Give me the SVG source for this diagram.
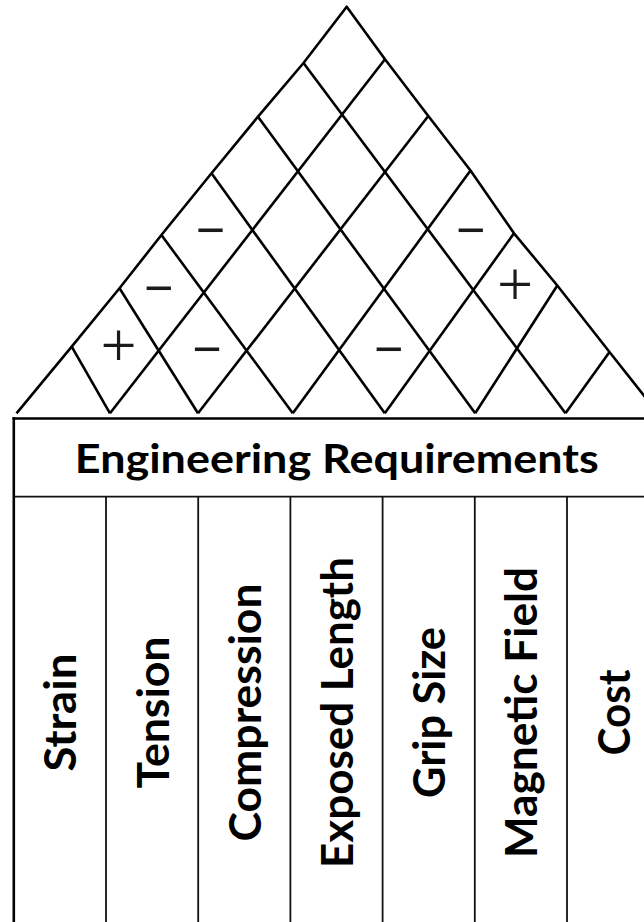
<svg xmlns="http://www.w3.org/2000/svg" width="644" height="922" viewBox="0 0 644 922">
<style>
.roof{fill:none;stroke:#000;stroke-width:2.6;stroke-linejoin:round;stroke-linecap:butt}
.plus{font-family:"Liberation Serif",serif;font-size:64px;fill:#1a1a1a;text-anchor:middle}
.minus{font-family:"Liberation Sans",sans-serif;font-size:50px;fill:#1a1a1a;text-anchor:middle}
.hdr{font-family:Lato,"Open Sans",sans-serif;font-weight:bold;font-size:39.5px;fill:#000;text-anchor:middle}
.lbl{font-family:Lato,"Open Sans",sans-serif;font-weight:bold;font-size:43px;fill:#000;text-anchor:middle}
.frame{stroke:#000;stroke-width:2.6;fill:none}
.col{stroke:#111;stroke-width:1.8;fill:none}
</style>
<rect width="644" height="922" fill="#fff"/>
<g id="roof">
<polyline class="roof" points="16.5,413.3 71.7,346.7 119.5,288.3 161.4,235 211.5,173.3 258,116.7 303.5,63 346.7,6.7 385,59.3 428.3,116 470.5,170.5 514,233.3 557.3,285.5 609.5,352 658,413.3"/>
<g id="connectors">
<line class="roof" x1="110" y1="413.3" x2="71.7" y2="346.7"/>
<line class="roof" x1="198" y1="413.3" x2="119.5" y2="288.3"/>
<line class="roof" x1="292.8" y1="413.3" x2="161.4" y2="235"/>
<line class="roof" x1="384.8" y1="413.3" x2="211.5" y2="173.3"/>
<line class="roof" x1="475.2" y1="413.3" x2="258" y2="116.7"/>
<line class="roof" x1="565.5" y1="413.3" x2="303.5" y2="63"/>
<line class="roof" x1="110" y1="413.3" x2="385" y2="59.3"/>
<line class="roof" x1="198" y1="413.3" x2="428.3" y2="116"/>
<line class="roof" x1="292.8" y1="413.3" x2="470.5" y2="170.5"/>
<line class="roof" x1="384.8" y1="413.3" x2="514" y2="233.3"/>
<line class="roof" x1="475.2" y1="413.3" x2="557.3" y2="285.5"/>
<line class="roof" x1="565.5" y1="413.3" x2="609.5" y2="352"/>
</g>
</g>
<g id="correlations">
<text class="plus" x="118.5" y="366.7">+</text>
<text class="plus" x="515" y="306">+</text>
<text class="minus" x="206.8" y="366">−</text>
<text class="minus" x="158.5" y="304.5">−</text>
<text class="minus" x="210.3" y="247">−</text>
<text class="minus" x="388.5" y="365.5">−</text>
<text class="minus" x="470.5" y="247">−</text>
</g>
<g id="table">
<line class="frame" x1="12.5" y1="418.5" x2="644" y2="418.5"/>
<line class="frame" x1="13.8" y1="417.2" x2="13.8" y2="922"/>
<line class="col" x1="13.8" y1="496.7" x2="644" y2="496.7"/>
<line class="col" x1="106" y1="496.7" x2="106" y2="922"/>
<line class="col" x1="198.2" y1="496.7" x2="198.2" y2="922"/>
<line class="col" x1="290.4" y1="496.7" x2="290.4" y2="922"/>
<line class="col" x1="382.6" y1="496.7" x2="382.6" y2="922"/>
<line class="col" x1="474.8" y1="496.7" x2="474.8" y2="922"/>
<line class="col" x1="567" y1="496.7" x2="567" y2="922"/>
</g>
<g id="header">
<text class="hdr" x="336.8" y="473.3" textLength="524" lengthAdjust="spacingAndGlyphs">Engineering Requirements</text>
</g>
<g id="col-strain"><text class="lbl" transform="translate(76.4,712.5) rotate(-90)" textLength="118" lengthAdjust="spacingAndGlyphs">Strain</text></g>
<g id="col-tension"><text class="lbl" transform="translate(168.6,712.5) rotate(-90)" textLength="152" lengthAdjust="spacingAndGlyphs">Tension</text></g>
<g id="col-compression"><text class="lbl" transform="translate(260.8,712.5) rotate(-90)" textLength="258" lengthAdjust="spacingAndGlyphs">Compression</text></g>
<g id="col-exposed-length"><text class="lbl" transform="translate(353,712.5) rotate(-90)" textLength="311" lengthAdjust="spacingAndGlyphs">Exposed Length</text></g>
<g id="col-grip-size"><text class="lbl" transform="translate(445.2,712.5) rotate(-90)" textLength="171" lengthAdjust="spacingAndGlyphs">Grip Size</text></g>
<g id="col-magnetic-field"><text class="lbl" transform="translate(537.4,712.5) rotate(-90)" textLength="291" lengthAdjust="spacingAndGlyphs">Magnetic Field</text></g>
<g id="col-cost"><text class="lbl" transform="translate(629.6,712.5) rotate(-90)" textLength="86" lengthAdjust="spacingAndGlyphs">Cost</text></g>
</svg>
